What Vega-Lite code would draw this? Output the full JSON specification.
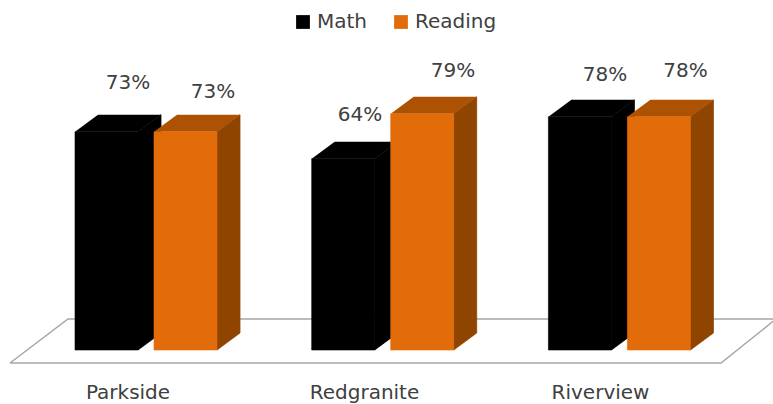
{"$schema":"https://vega.github.io/schema/vega-lite/v6.json","width":773,"height":378,"autosize":{"type":"none"},"padding":{"left":0,"top":0,"right":0,"bottom":26},"background":"white","config":{"view":{"stroke":null},"font":"DejaVu Sans"},"data":{"values":[{"school":"Parkside","subject":"Math","score":73},{"school":"Parkside","subject":"Reading","score":73},{"school":"Redgranite","subject":"Math","score":64},{"school":"Redgranite","subject":"Reading","score":79},{"school":"Riverview","subject":"Math","score":78},{"school":"Riverview","subject":"Reading","score":78}]},"transform":[{"calculate":"indexof(['Parkside','Redgranite','Riverview'],datum.school)","as":"i"},{"calculate":"datum.subject==='Math'?0:1","as":"j"},{"calculate":"75+236.7*datum.i+79*datum.j","as":"x0"},{"calculate":"datum.x0+63","as":"x1"},{"calculate":"datum.school+datum.subject","as":"id"},{"calculate":"datum.score+'%'","as":"label"},{"calculate":"[128,213,360,453,605,685.5][datum.i*2+datum.j]","as":"lx"},{"calculate":"[89.3,86.3,78.6,93.3,92,93.3][datum.i*2+datum.j]","as":"ly"}],"layer":[{"data":{"values":[{"x":10,"v":-4.35,"n":0},{"x":68,"v":10.37,"n":1},{"x":776,"v":10.37,"n":2},{"x":721,"v":-4.35,"n":3},{"x":10,"v":-4.35,"n":4}]},"mark":{"type":"line","stroke":"#a6a6a6","strokeWidth":1.5,"clip":true},"encoding":{"x":{"field":"x","type":"quantitative","scale":{"domain":[0,773],"nice":false,"zero":false},"axis":{"values":[127.5,364,600],"labelExpr":"datum.value<200?'Parkside':datum.value<500?'Redgranite':'Riverview'","title":null,"domain":false,"ticks":false,"grid":false,"labelFontSize":20,"labelColor":"#404040","labelPadding":4,"labelFont":"DejaVu Sans"}},"y":{"field":"v","type":"quantitative","scale":{"domain":[-9.36,117.06],"nice":false,"zero":false},"axis":null},"order":{"field":"n","type":"ordinal"}}},{"transform":[{"calculate":"[0,1]","as":"k"},{"flatten":["k"]},{"calculate":"datum.x1+datum.k*23","as":"xa"},{"calculate":"datum.score+datum.k*5.69","as":"va"},{"calculate":"datum.k*5.69","as":"vb"}],"mark":{"type":"area","interpolate":"linear","strokeWidth":0.8},"encoding":{"x":{"field":"xa","type":"quantitative"},"y":{"field":"va","type":"quantitative"},"y2":{"field":"vb"},"detail":{"field":"id"},"color":{"condition":{"test":"datum.subject==='Math'","value":"#000000"},"value":"#8f4400"},"stroke":{"condition":{"test":"datum.subject==='Math'","value":"#000000"},"value":"#8f4400"}}},{"transform":[{"calculate":"[0,1,2,3]","as":"k"},{"flatten":["k"]},{"calculate":"[datum.x0,datum.x0+23,datum.x1,datum.x1+23][datum.k]","as":"xa"},{"calculate":"datum.score+(datum.k>0?5.69:0)","as":"va"},{"calculate":"datum.score+(datum.k>2?5.69:0)","as":"vb"}],"mark":{"type":"area","interpolate":"linear"},"encoding":{"x":{"field":"xa","type":"quantitative"},"y":{"field":"va","type":"quantitative"},"y2":{"field":"vb"},"detail":{"field":"id"},"color":{"condition":{"test":"datum.subject==='Math'","value":"#000000"},"value":"#ad5203"}}},{"mark":{"type":"bar","strokeWidth":0.6},"encoding":{"x":{"field":"x0","type":"quantitative"},"x2":{"field":"x1"},"y":{"field":"score","type":"quantitative"},"y2":{"datum":0},"stroke":{"condition":{"test":"datum.subject==='Math'","value":"#000000"},"value":"#e36c0a"},"color":{"field":"subject","type":"nominal","scale":{"domain":["Math","Reading"],"range":["#000000","#e36c0a"]},"legend":{"title":null,"orient":"none","legendX":293,"legendY":12,"direction":"horizontal","symbolType":"square","symbolSize":190,"labelFontSize":20,"labelColor":"#404040","labelFont":"DejaVu Sans","columnPadding":23,"symbolStrokeWidth":0}}}},{"mark":{"type":"text","fontSize":20,"color":"#404040","baseline":"middle","align":"center"},"encoding":{"x":{"field":"lx","type":"quantitative"},"y":{"field":"ly","type":"quantitative"},"text":{"field":"label"}}}]}
